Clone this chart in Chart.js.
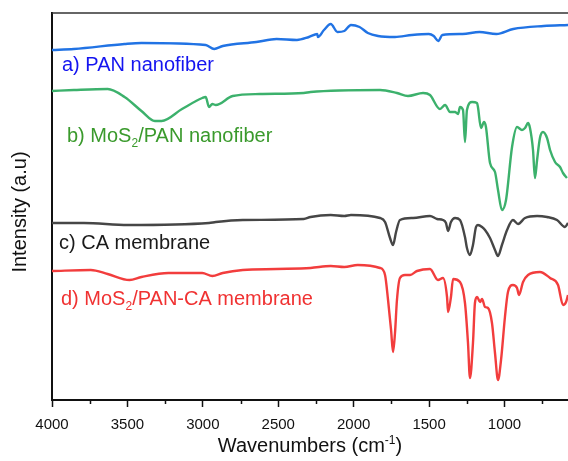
<!DOCTYPE html>
<html>
<head>
<meta charset="utf-8">
<title>FTIR spectra</title>
<script src="https://cdn.jsdelivr.net/npm/chart.js@4.4.1/dist/chart.umd.min.js"></script>
<style>
  html, body { margin: 0; padding: 0; background: #fff; }
  canvas { display: block; }
</style>
</head>
<body>
<canvas id="ftirChart" width="568" height="461"></canvas>
<script>
// a) PAN nanofiber
const panWn = [4000, 3855, 3519, 3407, 2981, 2925, 2868, 2645, 2511, 2376, 2297, 2241, 2237, 2197, 2152, 2107, 2062, 2018, 1961, 1906, 1838, 1726, 1614, 1502, 1469, 1439, 1412, 1278, 1166, 1054, 942, 740, 579]
const panI = [350, 351, 356, 357, 355, 351, 354, 358, 361, 360, 363, 366, 363, 370, 376, 368, 369, 375, 373, 367, 364, 363, 365, 366, 364, 359, 365, 366, 368, 366, 371, 374, 375]

// b) MoS2/PAN nanofiber
const mosPanWn = [4000, 3855, 3631, 3519, 3407, 3318, 3273, 3138, 3004, 2981, 2959, 2937, 2914, 2802, 2623, 2331, 2286,
  1825, 1713, 1640, 1540, 1494, 1428, 1394, 1361, 1328, 1308, 1295, 1275, 1262, 1249, 1215, 1182, 1176, 1156, 1136, 1123,
  1096, 1063, 1043, 1017, 990, 950, 917, 884, 864, 844, 831, 811, 798, 784, 765, 745, 718, 698, 665, 632, 612, 586]
const mosPanI = [309, 310, 311, 303, 289, 279, 279, 291, 302, 303, 293, 296, 295, 304, 306, 307, 308,
  310, 307, 304, 307, 305, 291, 295, 288, 288, 286, 293, 290, 258, 290, 298, 297, 293, 272, 278, 273,
  237, 228, 210, 190, 200, 253, 273, 270, 272, 277, 272, 250, 222, 240, 262, 268, 262, 250, 238, 233, 227, 222]

// c) CA membrane
const caWn = [4000, 3788, 3497, 2959, 2914, 2735, 2331, 2286, 2152, 2062, 2018,
  1825, 1792, 1759, 1739, 1719, 1693, 1606, 1494, 1447, 1408, 1388, 1374, 1355, 1328, 1295, 1262, 1249, 1229, 1209,
  1189, 1176, 1149, 1129, 1096, 1063, 1043, 1017, 983, 944, 910, 864, 784, 718, 652, 599, 579]
const caI = [177, 177, 175, 177, 178, 180, 181, 183, 185, 184, 185,
  182, 178, 162, 155, 168, 180, 182, 184, 181, 180, 177, 169, 178, 182, 180, 163, 152, 145, 155,
  173, 175, 173, 170, 162, 150, 144, 155, 170, 180, 176, 182, 184, 183, 180, 173, 177]

// d) MoS2/PAN-CA membrane
const mosPanCaWn = [4000, 3743, 3631, 3486, 3407, 3228, 3004, 2937, 2868, 2735, 2511, 2286, 2152, 2062, 1973,
  1825, 1792, 1772, 1752, 1739, 1726, 1713, 1693, 1660, 1626, 1580, 1494, 1441, 1408, 1381, 1374, 1355, 1341, 1295,
  1262, 1242, 1229, 1209, 1196, 1182, 1162, 1149, 1129, 1109, 1083, 1063, 1043, 1023, 997, 977, 944, 917, 904, 877,
  844, 765, 698, 645, 612, 592, 579]
const mosPanCaI = [129, 130, 126, 120, 123, 127, 127, 124, 127, 130, 131, 132, 134, 133, 135,
  132, 125, 100, 70, 48, 67, 100, 122, 125, 125, 129, 131, 120, 122, 103, 88, 103, 121, 118,
  97, 57, 22, 57, 97, 103, 98, 101, 93, 92, 77, 47, 20, 40, 83, 108, 115, 112, 105, 118,
  125, 128, 122, 115, 95, 98, 105]

const majorTicks = [1000, 1500, 2000, 2500, 3000, 3500, 4000]
const minorTicks = [750, 1250, 1750, 2250, 2750, 3250, 3750]

const FONT = "'Liberation Sans', Arial, sans-serif"

function toPoints(xs, ys) {
  return xs.map((x, i) => ({ x: x, y: ys[i] }))
}

function spectrum(xs, ys, color) {
  return {
    data: toPoints(xs, ys),
    borderColor: color,
    borderWidth: 2.4,
    pointRadius: 0,
    cubicInterpolationMode: "monotone",
    fill: false,
  }
}

// text with sub/superscripts, drawn left to right from a baseline
function drawRich(ctx, parts, x, y, size, color) {
  ctx.save()
  ctx.fillStyle = color
  ctx.textBaseline = "alphabetic"
  ctx.textAlign = "left"
  let cx = x
  parts.forEach(([text, mode]) => {
    const s = mode ? Math.round(size * 0.62) : size
    const dy = mode === "sub" ? size * 0.25 : mode === "sup" ? -size * 0.42 : 0
    ctx.font = s + "px " + FONT
    ctx.fillText(text, cx, y + dy)
    cx += ctx.measureText(text).width
  })
  ctx.restore()
  return cx - x
}

function richWidth(ctx, parts, size) {
  let w = 0
  parts.forEach(([text, mode]) => {
    ctx.font = (mode ? Math.round(size * 0.62) : size) + "px " + FONT
    w += ctx.measureText(text).width
  })
  return w
}

const seriesLabels = [
  { parts: [["a) PAN nanofiber"]], x: 62, y: 71, color: "#1414f0" },
  { parts: [["b) MoS"], ["2", "sub"], ["/PAN nanofiber"]], x: 67, y: 142, color: "#3a9a2c" },
  { parts: [["c) CA membrane"]], x: 59, y: 249, color: "#1a1a1a" },
  { parts: [["d) MoS"], ["2", "sub"], ["/PAN-CA membrane"]], x: 61, y: 305, color: "#f03232" },
]

const frameAndText = {
  id: "frameAndText",
  afterDraw(chart) {
    const ctx = chart.ctx
    const area = chart.chartArea
    const xs = chart.scales.x

    ctx.save()
    // top frame line
    ctx.strokeStyle = "#333"
    ctx.lineWidth = 1.6
    ctx.beginPath()
    ctx.moveTo(area.left, area.top)
    ctx.lineTo(area.right, area.top)
    ctx.stroke()

    // minor ticks
    ctx.strokeStyle = "#111"
    ctx.lineWidth = 1.5
    minorTicks.forEach((v) => {
      const px = Math.round(xs.getPixelForValue(v)) + 0.5
      ctx.beginPath()
      ctx.moveTo(px, area.bottom)
      ctx.lineTo(px, area.bottom + 4)
      ctx.stroke()
    })
    ctx.restore()

    seriesLabels.forEach((l) => drawRich(ctx, l.parts, l.x, l.y, 20, l.color))

    // x axis title
    const xTitle = [["Wavenumbers (cm"], ["-1", "sup"], [")"]]
    const w = richWidth(ctx, xTitle, 20)
    drawRich(ctx, xTitle, (area.left + area.right) / 2 - w / 2, 452, 20, "#111")

    // y axis title
    ctx.save()
    ctx.translate(20, 212)
    ctx.rotate(-Math.PI / 2)
    ctx.font = "20px " + FONT
    ctx.fillStyle = "#111"
    ctx.textAlign = "center"
    ctx.textBaseline = "middle"
    ctx.fillText("Intensity (a.u)", 0, 0)
    ctx.restore()
  },
}

const ctx = document.getElementById("ftirChart").getContext("2d")
const ftirChart = new Chart(ctx, {
  type: "line",
  data: {
    datasets: [
      spectrum(panWn, panI, "#2173e4"),
      spectrum(mosPanWn, mosPanI, "#3cb16c"),
      spectrum(caWn, caI, "#464646"),
      spectrum(mosPanCaWn, mosPanCaI, "#f23d3d"),
    ],
  },
  options: {
    responsive: false,
    animation: false,
    devicePixelRatio: 1,
    layout: { padding: { top: 13, right: 0, left: 0, bottom: 0 } },
    plugins: {
      legend: { display: false },
      tooltip: { enabled: false },
    },
    scales: {
      x: {
        type: "linear",
        reverse: true,
        min: 579,
        max: 4000,
        afterBuildTicks: (scale) => {
          scale.ticks = majorTicks.map((v) => ({ value: v }))
        },
        afterFit: (scale) => {
          scale.height = 61
        },
        ticks: {
          autoSkip: false,
          maxRotation: 0,
          padding: 9,
          color: "#111",
          font: { family: FONT, size: 15 },
          callback: (value) => String(value),
        },
        grid: {
          drawOnChartArea: false,
          drawTicks: true,
          tickLength: 7,
          tickColor: "#111",
          tickWidth: 1.5,
        },
        border: { display: true, color: "#111", width: 2 },
      },
      y: {
        min: 0,
        max: 387,
        afterFit: (scale) => {
          scale.width = 52
        },
        ticks: { display: false },
        grid: { display: false, drawTicks: false },
        border: { display: true, color: "#111", width: 2 },
      },
    },
  },
  plugins: [frameAndText],
})
</script>
</body>
</html>
